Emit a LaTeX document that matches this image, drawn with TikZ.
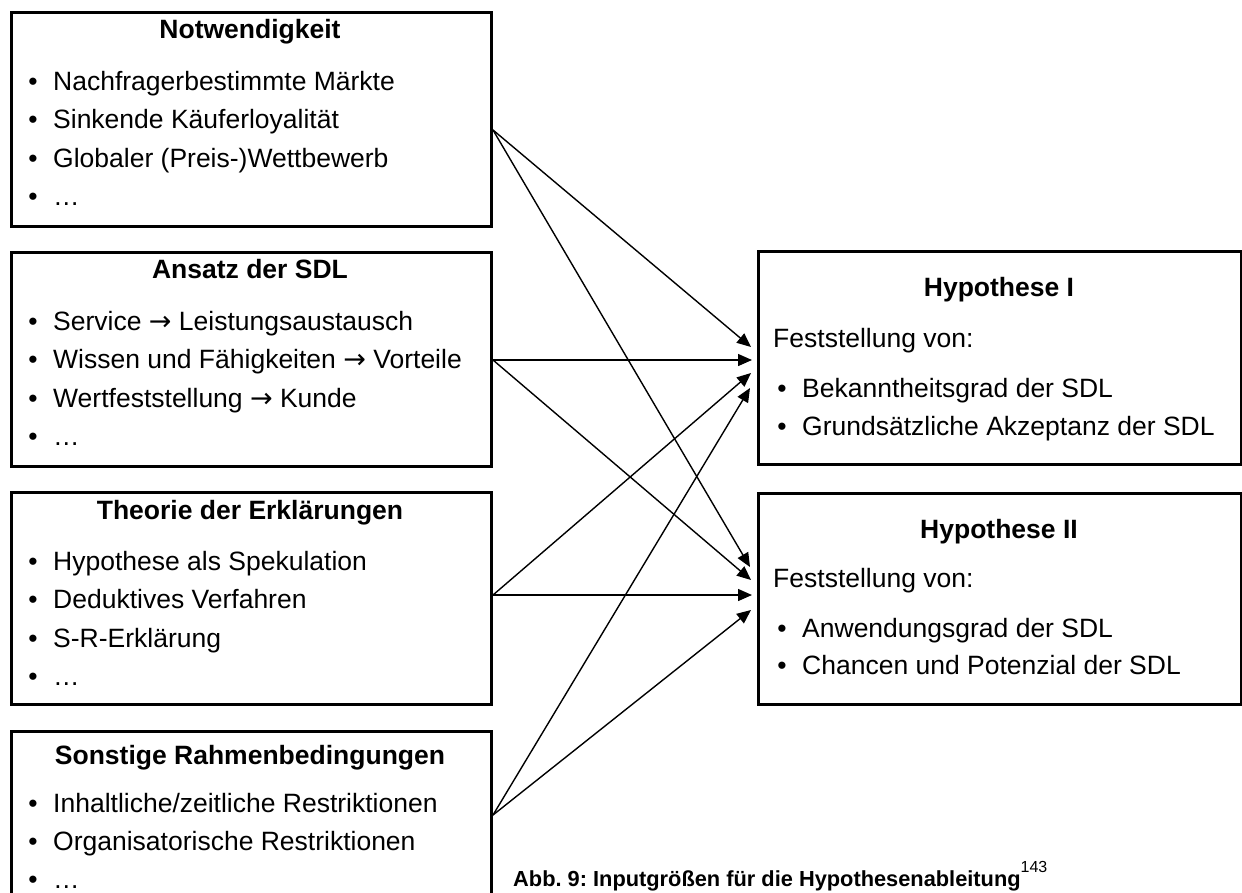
\documentclass[tikz,border=0pt]{standalone}
\usepackage{fontspec}
\setmainfont{Liberation Sans}
\newfontfamily\arrowfont{DejaVu Sans}
\newcommand\rarrow{{\arrowfont\fontsize{27}{30}\selectfont →}}
\usetikzlibrary{arrows.meta}

\begin{document}
\frenchspacing
\begin{tikzpicture}[x=1pt,y=-1pt,
  font=\fontsize{26.5}{30}\selectfont,
  frame/.style={draw=black, line width=3pt, fill=none, inner sep=0pt, anchor=north west},
  ttl/.style={anchor=base, inner sep=0pt, font=\fontsize{26.5}{30}\selectfont\bfseries},
  txt/.style={anchor=base west, inner sep=0pt},
  bul/.style={anchor=base, inner sep=0pt},
  link/.style={line width=1.4pt, -{Triangle[length=14pt,width=12pt]}}]

\path[use as bounding box, clip] (0,0) rectangle (1242,892);

% input boxes
\node[frame, minimum width=480pt, minimum height=214pt] (n1) at (10,11) {};
\node[frame, minimum width=480pt, minimum height=214pt] (n2) at (10,251) {};
\node[frame, minimum width=480pt, minimum height=212pt] (n3) at (10,491) {};
\node[frame, minimum width=480pt, minimum height=230pt] (n4) at (10,730) {};

% hypothesis boxes
\node[frame, minimum width=483pt, minimum height=213pt] (h1) at (757,250) {};
\node[frame, minimum width=483pt, minimum height=211pt] (h2) at (757,492) {};

% Notwendigkeit
\node[ttl] (n1t) at (250,38) {Notwendigkeit};
\node[bul] (n1b1) at (33,90) {•};  \node[txt] (n1i1) at (53,90) {Nachfragerbestimmte Märkte};
\node[bul] (n1b2) at (33,128) {•}; \node[txt] (n1i2) at (53,128) {Sinkende Käuferloyalität};
\node[bul] (n1b3) at (33,167) {•}; \node[txt] (n1i3) at (53,167) {Globaler (Preis-)Wettbewerb};
\node[bul] (n1b4) at (33,205) {•}; \node[txt] (n1i4) at (53,205) {…};

% Ansatz der SDL
\node[ttl] (n2t) at (250,278) {Ansatz der SDL};
\node[bul] (n2b1) at (33,330) {•}; \node[txt] (n2i1) at (53,330) {Service \rarrow{} Leistungsaustausch};
\node[bul] (n2b2) at (33,368) {•}; \node[txt] (n2i2) at (53,368) {Wissen und Fähigkeiten \rarrow{} Vorteile};
\node[bul] (n2b3) at (33,407) {•}; \node[txt] (n2i3) at (53,407) {Wertfeststellung \rarrow{} Kunde};
\node[bul] (n2b4) at (33,445) {•}; \node[txt] (n2i4) at (53,445) {…};

% Theorie der Erklärungen
\node[ttl] (n3t) at (250,519) {Theorie der Erklärungen};
\node[bul] (n3b1) at (33,570) {•}; \node[txt] (n3i1) at (53,570) {Hypothese als Spekulation};
\node[bul] (n3b2) at (33,608) {•}; \node[txt] (n3i2) at (53,608) {Deduktives Verfahren};
\node[bul] (n3b3) at (33,647) {•}; \node[txt] (n3i3) at (53,647) {S-R-Erklärung};
\node[bul] (n3b4) at (33,685) {•}; \node[txt] (n3i4) at (53,685) {…};

% Sonstige Rahmenbedingungen
\node[ttl] (n4t) at (250,764) {Sonstige Rahmenbedingungen};
\node[bul] (n4b1) at (33,812) {•}; \node[txt] (n4i1) at (53,812) {Inhaltliche/zeitliche Restriktionen};
\node[bul] (n4b2) at (33,850) {•}; \node[txt] (n4i2) at (53,850) {Organisatorische Restriktionen};
\node[bul] (n4b3) at (33,888) {•}; \node[txt] (n4i3) at (53,888) {…};

% Hypothese I
\node[ttl] (h1t) at (999,296) {Hypothese I};
\node[txt] (h1f) at (773,347) {Feststellung von:};
\node[bul] (h1b1) at (782,397) {•}; \node[txt] (h1i1) at (802,397) {Bekanntheitsgrad der SDL};
\node[bul] (h1b2) at (782,435) {•}; \node[txt] (h1i2) at (802,435) {Grundsätzliche Akzeptanz der SDL};

% Hypothese II
\node[ttl] (h2t) at (999,538) {Hypothese II};
\node[txt] (h2f) at (773,587) {Feststellung von:};
\node[bul] (h2b1) at (782,637) {•}; \node[txt] (h2i1) at (802,637) {Anwendungsgrad der SDL};
\node[bul] (h2b2) at (782,674) {•}; \node[txt] (h2i2) at (802,674) {Chancen und Potenzial der SDL};

% caption
\node[txt] (cap) at (513,886) {\fontsize{21.8}{26}\selectfont\bfseries Abb. 9: Inputgrößen für die Hypothesenableitung\raisebox{0.6em}{\fontsize{16}{18}\selectfont\mdseries 143}};

% connector ends
\coordinate (s1) at ([yshift=-119pt]n1.north east);
\coordinate (s2) at ([yshift=-109pt]n2.north east);
\coordinate (s3) at ([yshift=-104pt]n3.north east);
\coordinate (s4) at ([yshift=-85pt]n4.north east);

\coordinate (a1) at ([xshift=-6pt,yshift=-97pt]h1.north west);
\coordinate (a2) at ([xshift=-5pt,yshift=-110pt]h1.north west);
\coordinate (a3) at ([xshift=-6pt,yshift=-123pt]h1.north west);
\coordinate (a4) at ([xshift=-7pt,yshift=-138pt]h1.north west);

\coordinate (b1) at ([xshift=-7pt,yshift=-75pt]h2.north west);
\coordinate (b2) at ([xshift=-6pt,yshift=-88pt]h2.north west);
\coordinate (b3) at ([xshift=-5pt,yshift=-103pt]h2.north west);
\coordinate (b4) at ([xshift=-6pt,yshift=-118pt]h2.north west);

% connectors
\draw[link] (s1) -- (a1);
\draw[link] (s1) -- (b1);
\draw[link] (s2) -- (a2);
\draw[link] (s2) -- (b2);
\draw[link] (s3) -- (a3);
\draw[link] (s3) -- (b3);
\draw[link] (s4) -- (a4);
\draw[link] (s4) -- (b4);
\end{tikzpicture}
\end{document}
